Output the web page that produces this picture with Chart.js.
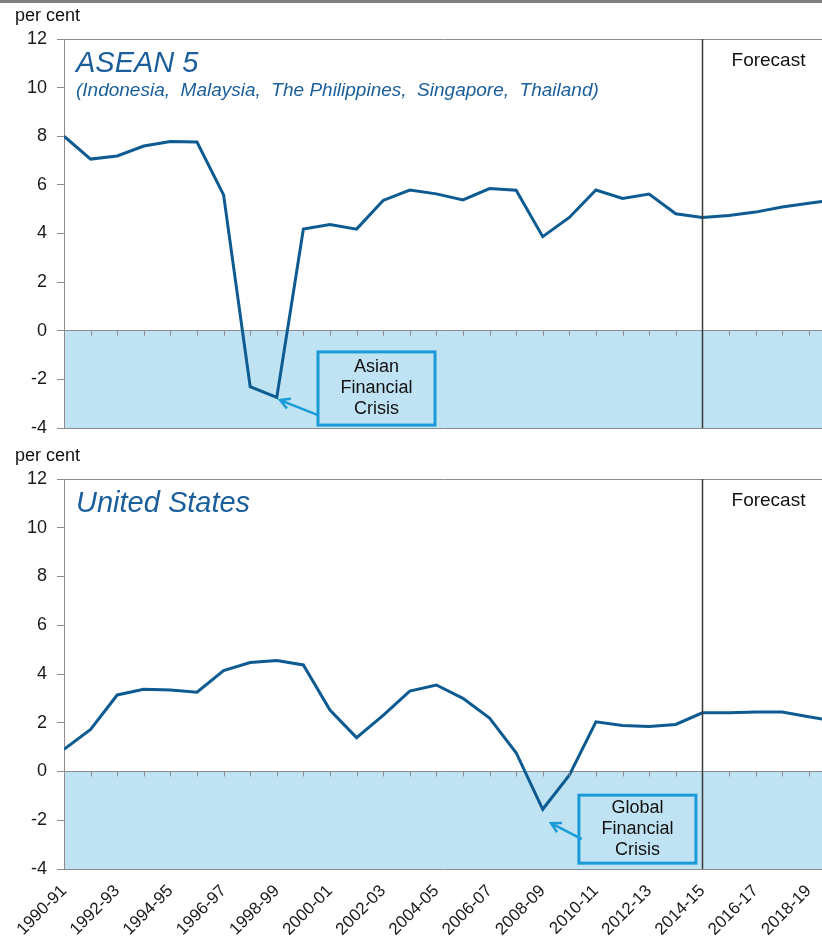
<!DOCTYPE html>
<html>
<head>
<meta charset="utf-8">
<script src="https://cdn.jsdelivr.net/npm/chart.js@4/dist/chart.umd.min.js"></script>
<style>
	body { margin: 0; background: #fff; overflow: hidden; }
	#bar { position: absolute; left: 0; top: 0; width: 822px; height: 3px; background: #808080; }
	canvas { position: absolute; left: 0; }
</style>
</head>
<body>
<div id="bar"></div>
<canvas id="asean" width="822" height="440" style="top:0"></canvas>
<canvas id="us" width="822" height="500" style="top:440px"></canvas>
<script>
"use strict";

var years = ["1990-91", "1991-92", "1992-93", "1993-94", "1994-95", "1995-96", "1996-97", "1997-98",
	"1998-99", "1999-00", "2000-01", "2001-02", "2002-03", "2003-04", "2004-05", "2005-06", "2006-07",
	"2007-08", "2008-09", "2009-10", "2010-11", "2011-12", "2012-13", "2013-14", "2014-15", "2015-16",
	"2016-17", "2017-18", "2018-19", "2019-20"];

// GDP growth, per cent
var asean = [8.0, 7.06, 7.19, 7.6, 7.78, 7.76, 5.59, -2.3, -2.74, 4.18, 4.37, 4.18, 5.36, 5.79, 5.63,
	5.38, 5.85, 5.78, 3.87, 4.66, 5.79, 5.44, 5.62, 4.81, 4.66, 4.74, 4.88, 5.09, 5.24, 5.4];
var us = [0.91, 1.73, 3.14, 3.37, 3.34, 3.25, 4.14, 4.47, 4.55, 4.37, 2.52, 1.39, 2.3, 3.3, 3.55,
	3.0, 2.19, 0.77, -1.55, -0.15, 2.04, 1.89, 1.85, 1.93, 2.41, 2.41, 2.44, 2.44, 2.25, 2.05];

var yMin = -4, yMax = 12, yStep = 2;
var forecastStart = "2014-15";

var lineColor = "#0d5b91";
var titleColor = "#1a5f9b";
var shade = "#bfe3f3";
var noteColor = "#1a9bd7";
var axisGrey = "#8c8c8c";
var font = '"Liberation Sans", Arial, sans-serif';

Chart.defaults.font.family = font;
Chart.defaults.color = "#1a1a1a";

function points(values) {
	return values.map(function (v, i) { return { x: i, y: v }; });
}

// shading below zero, forecast line, titles and notes
var panelPlugin = {
	id: 'panel',
	beforeDraw: function (chart) {
		var a = chart.chartArea, y = chart.scales.y, ctx = chart.ctx;
		var z = y.getPixelForValue(0);
		ctx.save();
		ctx.fillStyle = shade;
		ctx.fillRect(a.left, z, a.right - a.left, y.getPixelForValue(yMin) - z);
		ctx.restore();
	},
	afterDraw: function (chart, args, opts) {
		var a = chart.chartArea, x = chart.scales.x, y = chart.scales.y, ctx = chart.ctx;
		var z = y.getPixelForValue(0);
		ctx.save();

		// small ticks on the zero line
		ctx.strokeStyle = axisGrey;
		ctx.lineWidth = 1;
		for (var i = 1; i < years.length; i++) {
			var px = Math.round(x.getPixelForValue(i)) + 0.5;
			ctx.beginPath();
			ctx.moveTo(px, z);
			ctx.lineTo(px, z + 5);
			ctx.stroke();
		}

		// forecast divider
		var fx = Math.round(x.getPixelForValue(years.indexOf(forecastStart))) + 0.5;
		ctx.strokeStyle = "#3a3a3a";
		ctx.lineWidth = 1.5;
		ctx.beginPath();
		ctx.moveTo(fx, a.top);
		ctx.lineTo(fx, a.bottom);
		ctx.stroke();

		ctx.fillStyle = "#111";
		ctx.font = "19px " + font;
		ctx.textAlign = "center";
		ctx.fillText("Forecast", fx + 66, a.top + 27);

		ctx.textAlign = "left";
		ctx.font = "18px " + font;
		ctx.fillText("per cent", a.left - 49, a.top - 18);

		ctx.fillStyle = titleColor;
		ctx.font = "italic 29px " + font;
		ctx.fillText(opts.title, a.left + 12, a.top + 33);
		if (opts.subtitle) {
			ctx.font = "italic 19px " + font;
			ctx.fillText(opts.subtitle, a.left + 12, a.top + 57);
		}

		// note box with arrow
		var n = opts.note;
		var bx0 = x.getPixelForValue(n.box[0]), by0 = y.getPixelForValue(n.box[1]);
		var bx1 = x.getPixelForValue(n.box[2]), by1 = y.getPixelForValue(n.box[3]);
		ctx.fillStyle = shade;
		ctx.fillRect(bx0, by0, bx1 - bx0, by1 - by0);
		ctx.strokeStyle = noteColor;
		ctx.lineWidth = 3;
		ctx.strokeRect(bx0, by0, bx1 - bx0, by1 - by0);

		var ax0 = x.getPixelForValue(n.from[0]), ay0 = y.getPixelForValue(n.from[1]);
		var ax1 = x.getPixelForValue(n.to[0]), ay1 = y.getPixelForValue(n.to[1]);
		var ang = Math.atan2(ay1 - ay0, ax1 - ax0);
		ctx.lineWidth = 2.5;
		ctx.beginPath();
		ctx.moveTo(ax0, ay0);
		ctx.lineTo(ax1, ay1);
		ctx.moveTo(ax1 - 11 * Math.cos(ang - 0.5), ay1 - 11 * Math.sin(ang - 0.5));
		ctx.lineTo(ax1, ay1);
		ctx.lineTo(ax1 - 11 * Math.cos(ang + 0.5), ay1 - 11 * Math.sin(ang + 0.5));
		ctx.stroke();

		ctx.fillStyle = "#111";
		ctx.font = "18px " + font;
		ctx.textAlign = "center";
		ctx.textBaseline = "middle";
		var cy = (by0 + by1) / 2 - (n.lines.length - 1) * 10.5;
		n.lines.forEach(function (t, k) {
			ctx.fillText(t, (bx0 + bx1) / 2, cy + k * 21);
		});
		ctx.restore();
	}
};

function makeChart(id, values, panel, showLabels, bottomPad) {
	return new Chart(document.getElementById(id), {
		type: 'line',
		data: {
			datasets: [{
				data: points(values),
				borderColor: lineColor,
				borderWidth: 3,
				pointRadius: 0,
				tension: 0,
				fill: false
			}]
		},
		options: {
			responsive: false,
			animation: false,
			events: [],
			layout: { padding: { top: 39, bottom: bottomPad, left: 0, right: 0 } },
			plugins: {
				legend: { display: false },
				tooltip: { enabled: false },
				panel: panel
			},
			scales: {
				x: {
					type: 'linear',
					display: showLabels,
					min: 0,
					max: 28.5,
					grid: { display: false },
					border: { display: false },
					ticks: {
						stepSize: 1,
						autoSkip: false,
						includeBounds: false,
						maxRotation: 45,
						minRotation: 45,
						padding: 4,
						color: "#1a1a1a",
						font: { size: 17 },
						callback: function (v) {
							return (Number.isInteger(v) && v % 2 === 0) ? years[v] : '';
						}
					},
					afterFit: function (scale) {
						if (!showLabels) return;
						scale.height = 71;
						scale.paddingLeft = 0;
						scale.paddingRight = 0;
					}
				},
				y: {
					min: yMin,
					max: yMax,
					ticks: { stepSize: yStep, padding: 10, color: "#1a1a1a", font: { size: 18 } },
					grid: {
						tickLength: 7,
						tickColor: axisGrey,
						color: function (c) {
							var v = c.tick.value;
							return (v === yMax || v === 0 || v === yMin) ? axisGrey : 'transparent';
						}
					},
					border: { display: true, color: axisGrey },
					afterFit: function (scale) {
						scale.width = 64;
						scale.paddingTop = 0;
						scale.paddingBottom = 0;
					}
				}
			}
		},
		plugins: [panelPlugin]
	});
}

makeChart("asean", asean, {
	title: "ASEAN 5",
	subtitle: "(Indonesia,  Malaysia,  The Philippines,  Singapore,  Thailand)",
	note: { lines: ["Asian", "Financial", "Crisis"], box: [9.55, -0.87, 13.95, -3.88], from: [9.55, -3.47], to: [8.12, -2.85] }
}, false, 12);

makeChart("us", us, {
	title: "United States",
	note: { lines: ["Global", "Financial", "Crisis"], box: [19.36, -0.97, 23.76, -3.76], from: [19.47, -2.77], to: [18.31, -2.12] }
}, true, 0);
</script>
</body>
</html>
